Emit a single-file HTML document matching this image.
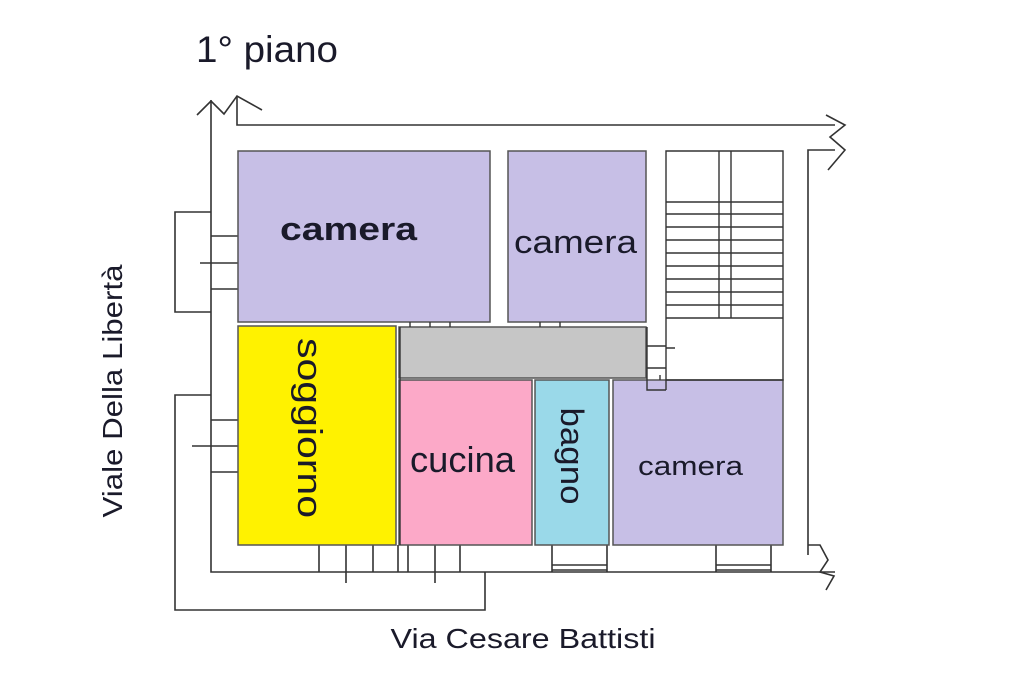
<!DOCTYPE html>
<html><head><meta charset="utf-8"><style>
html,body{margin:0;padding:0;background:#fff;}
svg{display:block;}
text{font-family:"Liberation Sans",sans-serif;fill:#1a1a2a;}
</style></head><body>
<svg width="1024" height="683" viewBox="0 0 1024 683" xmlns="http://www.w3.org/2000/svg">
<g stroke="#333" stroke-width="1.6" fill="none">
<path d="M211 100 V572 H835"/>
<path d="M237 96 V125 H835"/>
<path d="M197 115 L211 101 L224 114 L237 96 L262 110"/>
<path d="M826 115 L845 125 L830 137 L845 150 L828 170"/>
<path d="M808 555 V150 H835"/>
<path d="M808 545 H820 L828 560 L820 572 L834 576 L826 590"/>
<path d="M211 212 H175 V312 H211"/>
<path d="M211 236 H238 M200 263 H238 M211 289 H238"/>
<path d="M211 395 H175 V610 H485 V572"/>
<path d="M211 420 H238 M192 446 H238 M211 472 H238"/>
<path d="M319 545 V572 M346 545 V583 M373 545 V572 M398 545 V572 M408 545 V572 M435 545 V583 M460 545 V572"/>
<path d="M552 545 V572 M607 545 V572 M552 565 H607 M552 570 H607"/>
<path d="M716 545 V572 M771 545 V572 M716 565 H771 M716 570 H771"/>
</g>
<g stroke="#555" stroke-width="1.5">
<rect x="238" y="151" width="252" height="171" fill="#c7bfe6"/>
<rect x="508" y="151" width="138" height="171" fill="#c7bfe6"/>
<rect x="399" y="327" width="247" height="51" fill="#c6c6c6"/>
<rect x="238" y="326" width="158" height="219" fill="#fff200"/>
<rect x="399" y="380" width="133" height="165" fill="#fca9c8"/>
<rect x="535" y="380" width="74" height="165" fill="#9ad9e9"/>
<rect x="613" y="380" width="170" height="165" fill="#c7bfe6"/>
</g>
<g stroke="#333" stroke-width="1.4" fill="none">
<path d="M666 390 V151 H783 V380 H666"/>
<path d="M719 151 V318 M731 151 V318"/>
<path d="M666 202 H783 M666 214 H783 M666 227 H783 M666 240 H783 M666 253 H783 M666 266 H783 M666 279 H783 M666 292 H783 M666 305 H783 M666 318 H783"/>
<path d="M647 327 V390 H666 M647 346 H666 M647 368 H666 M666 348 H675"/>
<path d="M400 327 V545 M410 322 V327 M430 322 V327 M450 322 V327 M540 322 V327 M560 322 V327 M660 375 V380"/>
</g>
<text x="196" y="62" font-size="37" textLength="142" lengthAdjust="spacingAndGlyphs">1° piano</text>
<text x="280" y="240" font-size="32" font-weight="bold" textLength="137" lengthAdjust="spacingAndGlyphs">camera</text>
<text x="514" y="253" font-size="32" textLength="123" lengthAdjust="spacingAndGlyphs">camera</text>
<text x="410" y="472" font-size="36" textLength="105" lengthAdjust="spacingAndGlyphs">cucina</text>
<text x="638" y="475" font-size="27" textLength="105" lengthAdjust="spacingAndGlyphs">camera</text>
<text transform="translate(298,428) rotate(90)" font-size="34" text-anchor="middle" textLength="180" lengthAdjust="spacingAndGlyphs">soggiorno</text>
<text transform="translate(561,456) rotate(90)" font-size="32" text-anchor="middle" textLength="97" lengthAdjust="spacingAndGlyphs">bagno</text>
<text transform="translate(122,391) rotate(-90)" font-size="28" text-anchor="middle" textLength="253" lengthAdjust="spacingAndGlyphs">Viale Della Libertà</text>
<text x="523" y="648" font-size="28" text-anchor="middle" textLength="265" lengthAdjust="spacingAndGlyphs">Via Cesare Battisti</text>
</svg>
</body></html>
